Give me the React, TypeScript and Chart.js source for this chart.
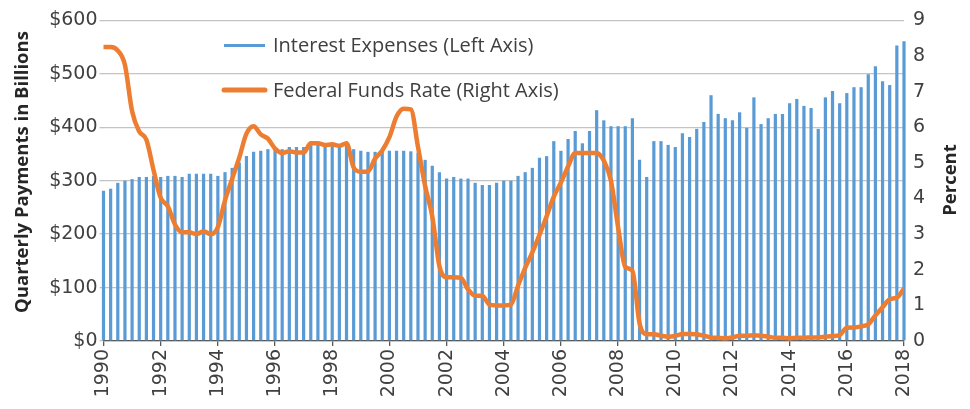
import React, { useEffect, useRef } from "react";
import { Chart, registerables } from "chart.js";

Chart.register(...registerables);

// ---------- DATA ----------
const startYear = 1990; // first quarter shown: 1990 Q1, last: 2018 Q1

// Quarterly federal interest payments, $ billions (left axis)
const interestExpenses = [
  281, 285, 296, 300, // 1990
  303, 307, 307, 309, // 1991
  307, 309, 309, 307, // 1992
  313, 313, 313, 313, // 1993
  309, 316, 324, 334, // 1994
  346, 354, 356, 359, // 1995
  361, 359, 363, 363, // 1996
  363, 368, 369, 366, // 1997
  366, 365, 366, 359, // 1998
  356, 354, 354, 356, // 1999
  356, 356, 356, 355, // 2000
  352, 339, 328, 316, // 2001
  304, 307, 304, 304, // 2002
  296, 292, 292, 296, // 2003
  300, 300, 309, 316, // 2004
  324, 343, 346, 374, // 2005
  356, 378, 393, 370, // 2006
  393, 432, 413, 402, // 2007
  402, 402, 417, 339, // 2008
  307, 374, 374, 367, // 2009
  363, 389, 382, 397, // 2010
  410, 460, 425, 417, // 2011
  413, 428, 399, 456, // 2012
  406, 417, 425, 425, // 2013
  445, 453, 440, 436, // 2014
  397, 456, 468, 445, // 2015
  464, 475, 475, 499, // 2016
  514, 486, 479, 553, // 2017
  561,                // 2018
];

// Federal funds rate, percent (right axis)
const fedFundsRate = [
  8.25, 8.25, 8.15, 7.75, // 1990
  6.45, 5.88, 5.65, 4.8, // 1991
  4.02, 3.78, 3.27, 3.05, // 1992
  3.05, 3.0, 3.08, 3.0, // 1993
  3.2, 3.95, 4.55, 5.15, // 1994
  5.82, 6.03, 5.8, 5.68, // 1995
  5.4, 5.28, 5.33, 5.29, // 1996
  5.29, 5.55, 5.55, 5.5, // 1997
  5.52, 5.48, 5.55, 4.87, // 1998
  4.75, 4.76, 5.12, 5.35, // 1999
  5.72, 6.3, 6.52, 6.5, // 2000
  5.45, 4.35, 3.5, 2.1, // 2001
  1.79, 1.79, 1.77, 1.45, // 2002
  1.27, 1.27, 1.02, 1.0, // 2003
  1.0, 1.02, 1.55, 2.05, // 2004
  2.49, 2.98, 3.5, 4.05, // 2005
  4.45, 4.9, 5.28, 5.28, // 2006
  5.28, 5.28, 5.06, 4.5, // 2007
  3.19, 2.08, 1.97, 0.5, // 2008
  0.19, 0.19, 0.15, 0.12, // 2009
  0.14, 0.2, 0.2, 0.19, // 2010
  0.15, 0.1, 0.09, 0.08, // 2011
  0.1, 0.15, 0.15, 0.16, // 2012
  0.15, 0.12, 0.09, 0.09, // 2013
  0.08, 0.09, 0.09, 0.1, // 2014
  0.1, 0.12, 0.14, 0.17, // 2015
  0.37, 0.38, 0.41, 0.47, // 2016
  0.72, 0.95, 1.17, 1.22, // 2017
  1.47, // 2018
];

const seriesLabels = ["Interest Expenses (Left Axis)", "Federal Funds Rate (Right Axis)"];
const leftAxisTitle = "Quarterly Payments in Billions";
const rightAxisTitle = "Percent";
const yearAxisMin = 1990;
const yearAxisMax = 2018;
const yearStep = 2;
const dollarMax = 600;
const dollarStep = 100;
const percentMax = 9;
const percentStep = 1;

// ---------- STYLE ----------
const BLUE = "#5B9BD5";
const ORANGE = "#ED7D31";
const TICK_COLOR = "#404040";
const TITLE_COLOR = "#262626";
const GRID_COLOR = "#C4C4C4";
const AXIS_COLOR = "#595959";
const TICK_FONT = { family: "'DejaVu Sans', sans-serif", size: 19 };

const quarterX = interestExpenses.map((_, i) => startYear + i / 4);

const decorPlugin = {
  id: "decor",
  afterDraw(chart: any) {
    const ctx = chart.ctx as CanvasRenderingContext2D;
    ctx.save();
    // Axis titles
    ctx.fillStyle = TITLE_COLOR;
    ctx.font = "bold 18.5px 'Open Sans', sans-serif";
    ctx.textAlign = "center";
    ctx.textBaseline = "middle";
    ctx.save();
    ctx.translate(23, 172);
    ctx.rotate(-Math.PI / 2);
    ctx.fillText(leftAxisTitle, 0, 0);
    ctx.restore();
    ctx.save();
    ctx.translate(951, 180);
    ctx.rotate(-Math.PI / 2);
    ctx.fillText(rightAxisTitle, 0, 0);
    ctx.restore();

    // Legend
    const items = [
      { label: seriesLabels[0], color: BLUE, width: 3, y: 45.5 },
      { label: seriesLabels[1], color: ORANGE, width: 5, y: 90 },
    ];
    ctx.font = "20px 'Open Sans', sans-serif";
    ctx.textAlign = "left";
    ctx.textBaseline = "middle";
    for (const it of items) {
      ctx.strokeStyle = it.color;
      ctx.lineWidth = it.width;
      ctx.lineCap = it.width > 4 ? "round" : "butt";
      ctx.beginPath();
      ctx.moveTo(224, it.y);
      ctx.lineTo(265, it.y);
      ctx.stroke();
      ctx.fillStyle = TICK_COLOR;
      ctx.fillText(it.label, 273, it.y + 1);
    }
    ctx.restore();
  },
};

export default function App() {
  const canvasRef = useRef<HTMLCanvasElement | null>(null);

  useEffect(() => {
    const canvas = canvasRef.current;
    if (!canvas) return;
    const chart = new Chart(canvas, {
      type: "bar",
      data: {
        datasets: [
          {
            type: "line",
            label: seriesLabels[1],
            data: quarterX.map((x, i) => ({ x, y: fedFundsRate[i] })),
            yAxisID: "y1",
            xAxisID: "x",
            borderColor: ORANGE,
            backgroundColor: ORANGE,
            borderWidth: 4.5,
            pointRadius: 0,
            cubicInterpolationMode: "monotone",
            borderCapStyle: "round",
            borderJoinStyle: "round",
            order: 0,
          } as any,
          {
            type: "bar",
            label: seriesLabels[0],
            data: quarterX.map((x, i) => ({ x, y: interestExpenses[i] })),
            yAxisID: "y",
            xAxisID: "x",
            backgroundColor: BLUE,
            borderWidth: 0,
            barPercentage: 0.45,
            categoryPercentage: 1,
            clip: false,
            order: 1,
          } as any,
        ],
      },
      options: {
        responsive: false,
        animation: false,
        events: [],
        layout: { padding: { top: 19, left: 0, right: 0, bottom: 0 } },
        plugins: {
          legend: { display: false },
          tooltip: { enabled: false },
        },
        scales: {
          x: {
            type: "linear",
            position: "bottom",
            min: yearAxisMin,
            max: yearAxisMax,
            offset: false,
            ticks: {
              stepSize: yearStep,
              autoSkip: false,
              maxRotation: 90,
              minRotation: 90,
              padding: 3,
              color: TICK_COLOR,
              font: TICK_FONT,
              callback: (v: any) => String(v),
            },
            grid: {
              offset: false,
              drawOnChartArea: false,
              drawTicks: true,
              tickLength: 5,
              color: AXIS_COLOR,
              lineWidth: 1.3,
            },
            border: { display: true, color: AXIS_COLOR, width: 1.3 },
            afterFit: (s: any) => {
              s.height = 68;
            },
          },
          y: {
            position: "left",
            min: 0,
            max: dollarMax,
            ticks: {
              stepSize: dollarStep,
              padding: 2,
              color: TICK_COLOR,
              font: TICK_FONT,
              callback: (v: any) => "$" + v,
            },
            grid: {
              color: GRID_COLOR,
              lineWidth: 1.3,
              drawTicks: true,
              tickLength: 4,
            },
            border: { display: false },
            afterFit: (s: any) => {
              s.width = 103.5;
            },
          },
          y1: {
            position: "right",
            min: 0,
            max: percentMax,
            ticks: {
              stepSize: percentStep,
              padding: 9,
              color: TICK_COLOR,
              font: TICK_FONT,
            },
            grid: { display: false, drawTicks: false, drawOnChartArea: false },
            border: { display: false },
            afterFit: (s: any) => {
              s.width = 66;
            },
          },
        },
      } as any,
      plugins: [decorPlugin],
    });
    return () => chart.destroy();
  }, []);

  return (
    <div style={{ position: "fixed", left: 0, top: 0, width: 970, height: 409, background: "#fff" }}>
      <canvas ref={canvasRef} width={970} height={409} style={{ display: "block", width: 970, height: 409 }} />
    </div>
  );
}
